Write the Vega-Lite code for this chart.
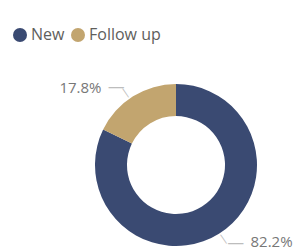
{
  "$schema": "https://vega.github.io/schema/vega-lite/v6.json",
  "autosize": {"type": "none"},
  "width": 240,
  "height": 164,
  "padding": {"left": 56, "top": 83, "right": 0, "bottom": 0},
  "background": "white",
  "config": {"view": {"stroke": null}},
  "data": {"values": [
    {"type": "New", "value": 82.2, "label": "82.2%"},
    {"type": "Follow up", "value": 17.8, "label": "17.8%"}
  ]},
  "encoding": {
    "theta": {"field": "value", "type": "quantitative", "stack": true},
    "order": {"field": "value", "type": "quantitative", "sort": "descending"}
  },
  "layer": [
    {
      "mark": {"type": "arc", "radius": 81, "innerRadius": 49},
      "encoding": {
        "color": {
          "field": "type", "type": "nominal",
          "scale": {"domain": ["New", "Follow up"], "range": ["#3A4A72", "#C2A56F"]},
          "legend": {
            "title": null, "orient": "none", "direction": "horizontal",
            "legendX": -44, "legendY": -56,
            "symbolType": "circle", "symbolSize": 196, "symbolStrokeWidth": 0,
            "labelFont": "Open Sans", "labelFontSize": 16, "labelColor": "#605E5C",
            "labelOffset": 3, "columnPadding": 5, "padding": 0
          }
        }
      }
    },
    {
      "mark": {"type": "text", "radius": 123, "thetaOffset": -0.33, "font": "Open Sans", "fontSize": 15, "color": "#777777", "align": "center", "baseline": "middle"},
      "encoding": {"detail": {"field": "type"}, "text": {"field": "label"}}
    },
    {
      "mark": {"type": "text", "text": "—", "radius": 98, "thetaOffset": -0.096, "font": "DejaVu Sans", "fontSize": 17, "color": "#BDBDBD", "align": "center", "baseline": "middle"},
      "encoding": {"detail": {"field": "type"}}
    },
    {
      "mark": {"type": "text", "text": "—", "radius": 88, "thetaOffset": -0.03, "angle": 56, "font": "DejaVu Sans", "fontSize": 12, "color": "#BDBDBD", "align": "center", "baseline": "middle", "dy": 1},
      "encoding": {"detail": {"field": "type"}}
    }
  ]
}
